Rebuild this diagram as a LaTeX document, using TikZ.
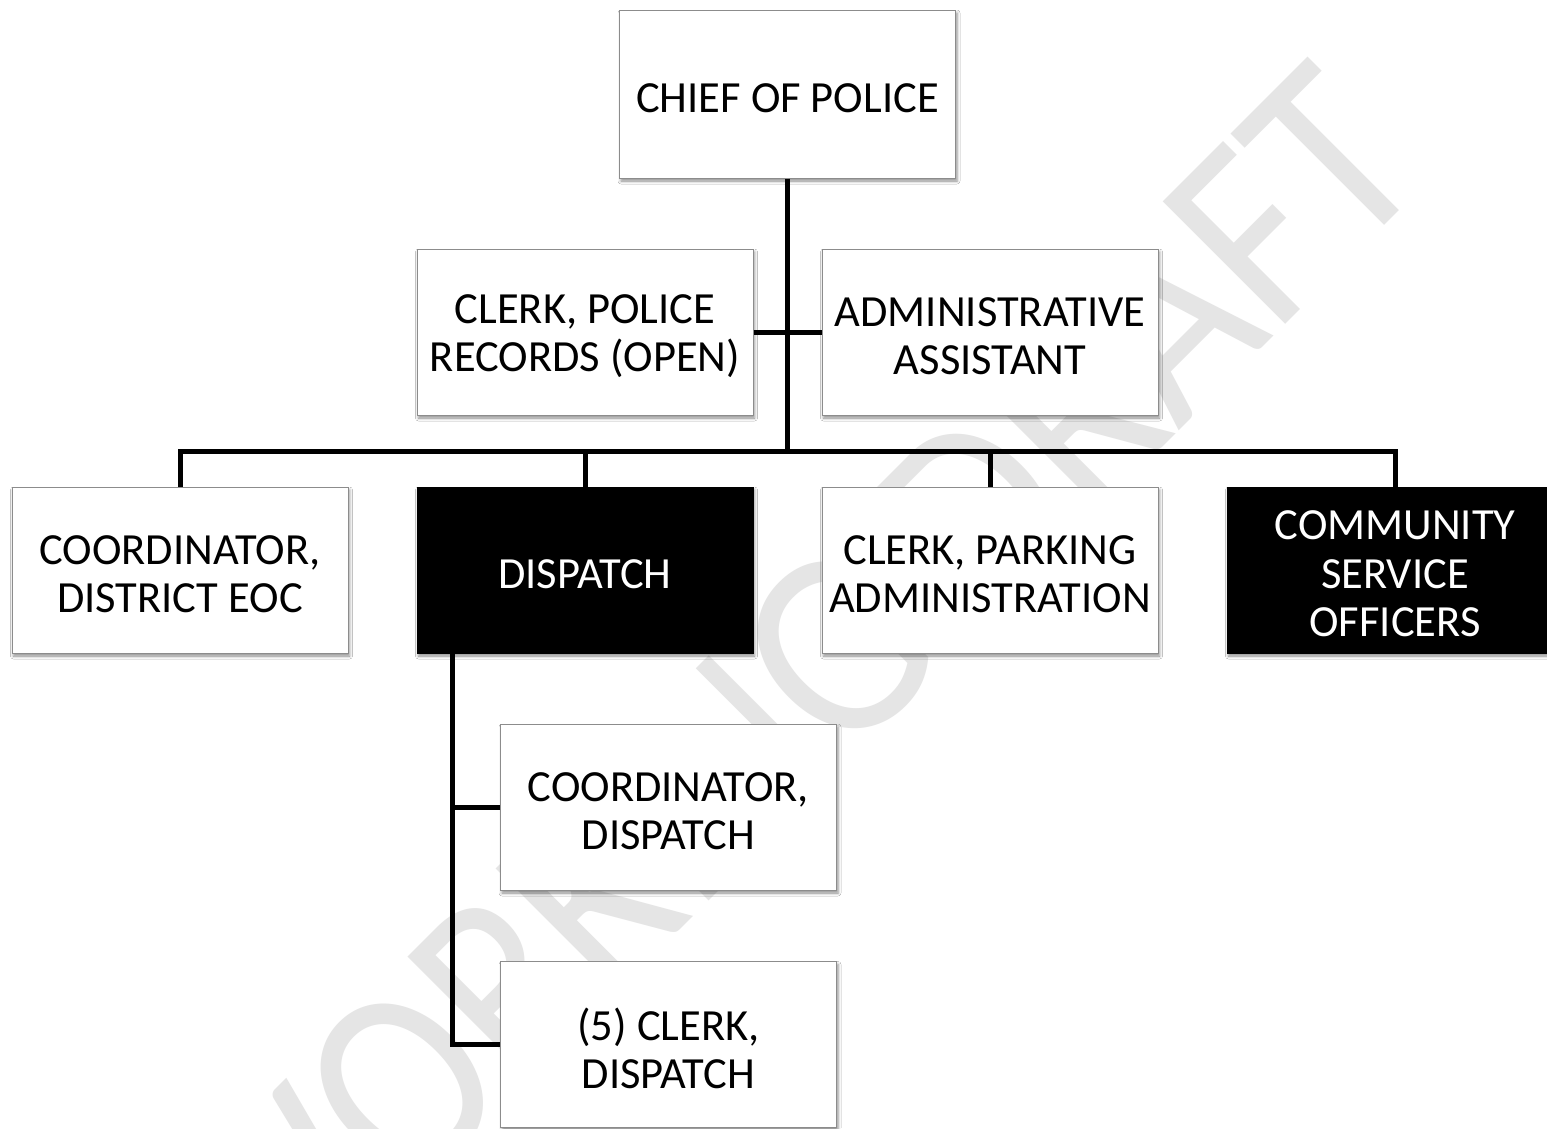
\documentclass[tikz,border=0pt]{standalone}
\usepackage{fontspec}
\setmainfont{Carlito}
\usetikzlibrary{shadows.blur}
\definecolor{wmgray}{RGB}{229,229,229}
\definecolor{edgegray}{RGB}{140,140,140}
\begin{document}
\begin{tikzpicture}[x=1pt,y=-1pt,
  box/.style={rectangle, draw=edgegray, line width=1pt, fill=white,
    minimum width=336pt, minimum height=166pt, inner sep=0pt,
    blur shadow={shadow xshift=1.5pt, shadow yshift=-3pt,
      shadow blur radius=3pt, shadow opacity=45}},
  darkbox/.style={box, draw=black, fill=black},
  boxtxt/.style={inner sep=0pt, align=center, yshift=-4pt,
    font=\fontsize{44.5}{48.5}\selectfont},
  darktxt/.style={boxtxt, text=white},
  conn/.style={line width=5pt, line join=miter, line cap=butt}]
\useasboundingbox (0,0) rectangle (1547,1128);
\clip (0,0) rectangle (1547,1128);
\fill[white] (0,0) rectangle (1547,1128);

% draft watermark behind the chart
\node[rotate=45, anchor=base west, text=wmgray, inner sep=0pt,
  font=\fontsize{270}{270}\selectfont] (wm) at (262.3,1347.7)
  {\scalebox{0.87}[1]{WORKING DRAFT}};

% positions
\node[box, minimum height=168pt, label={[boxtxt]center:CHIEF OF POLICE}] (chief) at (787.5,94) {};
\node[box, label={[boxtxt]center:{CLERK, POLICE\\RECORDS (OPEN)}}] (records) at (585,332) {};
\node[box, label={[boxtxt]center:{ADMINISTRATIVE\\ASSISTANT}}] (admin) at (990,332) {};
\node[box, label={[boxtxt]center:{COORDINATOR,\\DISTRICT EOC}}] (eoc) at (180,570) {};
\node[darkbox, label={[darktxt]center:DISPATCH}] (disp) at (585,570) {};
\node[box, label={[boxtxt]center:{CLERK, PARKING\\ADMINISTRATION}}] (park) at (990,570) {};
\node[darkbox, label={[darktxt]center:{COMMUNITY\\SERVICE\\OFFICERS}}] (cso) at (1395,570) {};
\node[box, label={[boxtxt]center:{COORDINATOR,\\DISPATCH}}] (coordd) at (668.5,807) {};
\node[box, label={[boxtxt]center:{(5) CLERK,\\DISPATCH}}] (clerks) at (668.5,1044.5) {};

% reporting lines
\coordinate (bus) at (787.5,451);
\coordinate (dtop) at ([xshift=36pt]disp.south west);
\draw[conn] (chief.south) -- (bus);
\draw[conn] (records.east) -- (admin.west);
\draw[conn] (eoc.north) -- (eoc.north |- bus) -- (cso.north |- bus) -- (cso.north);
\draw[conn] (disp.north) -- (disp.north |- bus);
\draw[conn] (park.north) -- (park.north |- bus);
\draw[conn] (dtop) |- (clerks.west);
\draw[conn] (coordd.west) -- (coordd.west -| dtop);
\end{tikzpicture}
\end{document}
